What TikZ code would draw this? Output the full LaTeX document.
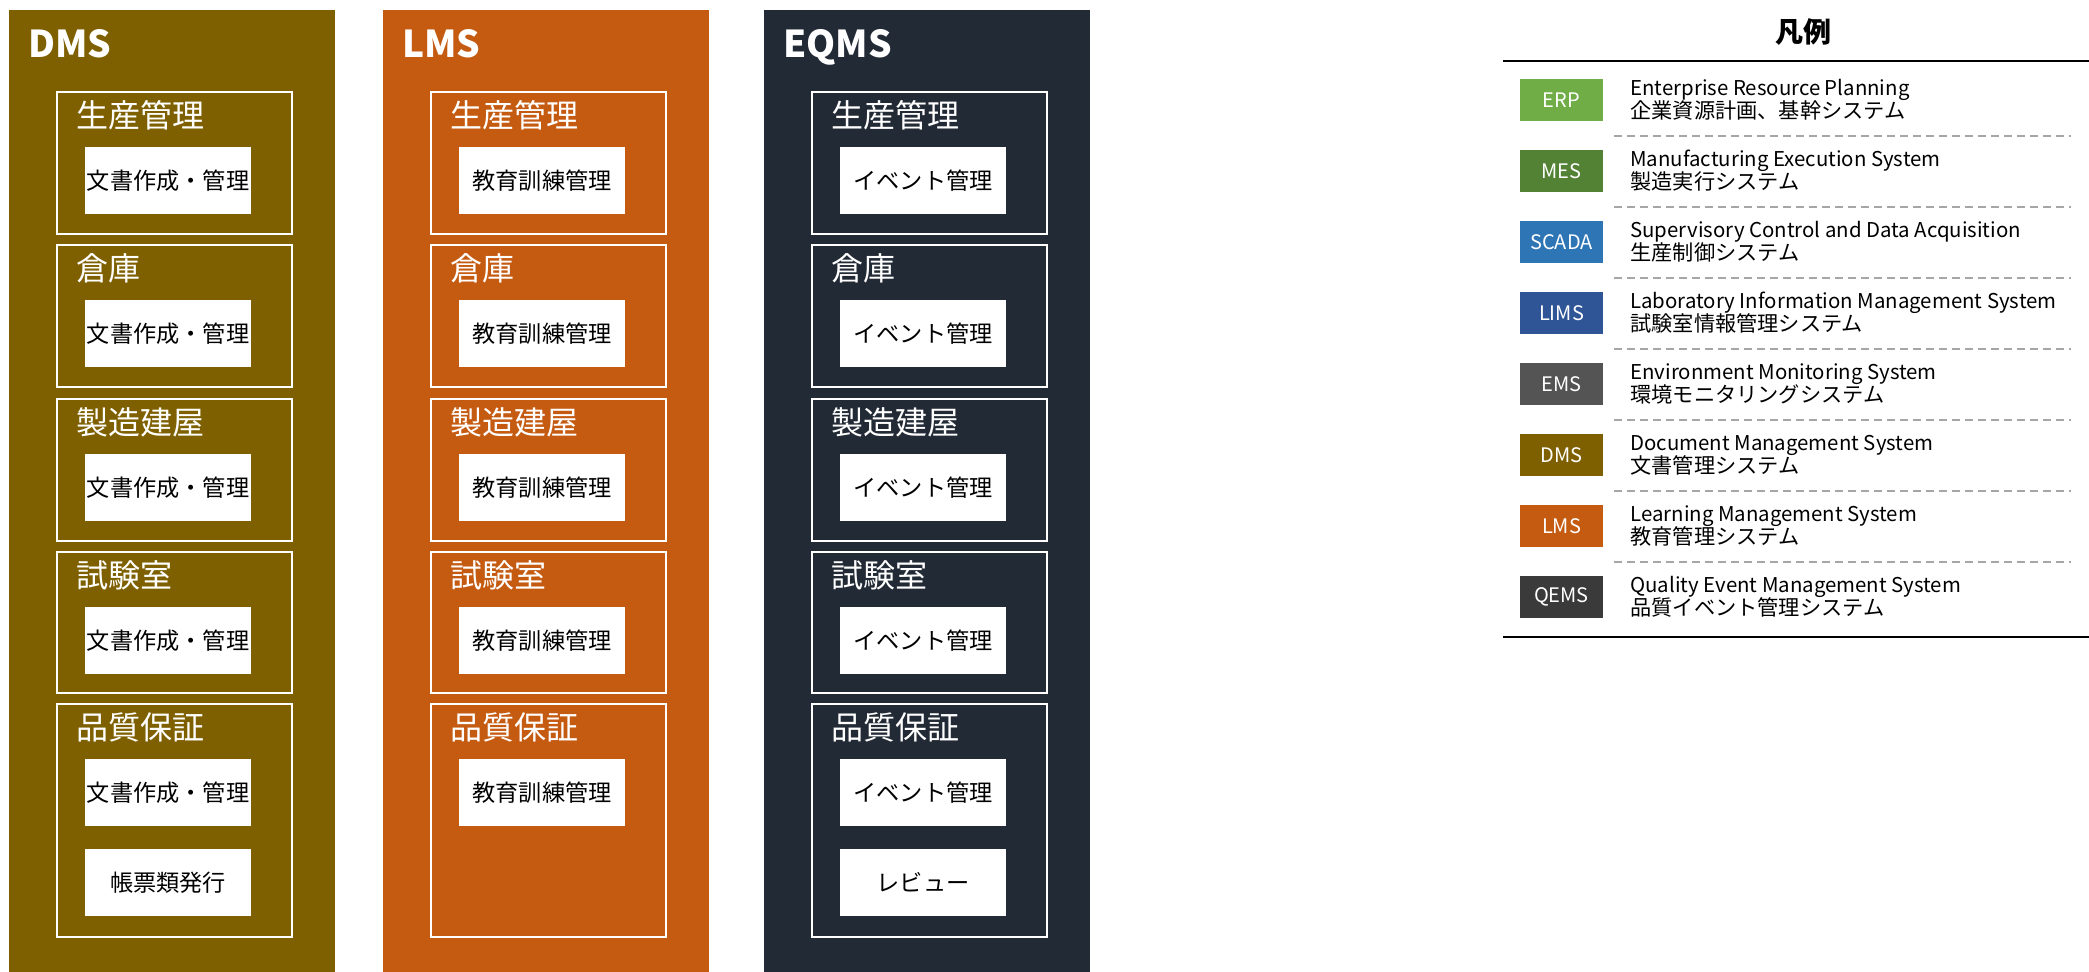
\documentclass[tikz,border=0pt]{standalone}
\usepackage{fontspec}
\setmainfont{Noto Sans CJK JP}
\definecolor{cdms}{HTML}{7F6000}
\definecolor{clms}{HTML}{C55A11}
\definecolor{ceqms}{HTML}{222A35}
\definecolor{cerp}{HTML}{70AD47}
\definecolor{cmes}{HTML}{548235}
\definecolor{cscada}{HTML}{2E75B6}
\definecolor{clims}{HTML}{2F5597}
\definecolor{cems}{HTML}{545454}
\definecolor{cqems}{HTML}{3A3A3A}
\definecolor{cdash}{HTML}{A6A6A6}
\tikzset{
 panel/.style={anchor=north west, inner sep=0, outer sep=0, minimum width=163pt, minimum height=482pt},
 ptitle/.style={anchor=base west, text=white, font=\bfseries\fontsize{18.5}{20}\selectfont, inner sep=0},
 ibox/.style={draw=white, line width=1pt, anchor=north west, inner sep=0, outer sep=0, minimum width=117.5pt},
 ititle/.style={anchor=base west, text=white, font=\fontsize{16}{18}\selectfont, inner sep=0},
 wbox/.style={fill=white, anchor=north west, inner sep=0, outer sep=0, minimum width=83pt, minimum height=33.5pt, font=\fontsize{11.6}{13}\selectfont, text=black},
 lbox/.style={anchor=north west, inner sep=0, outer sep=0, minimum width=41.5pt, minimum height=21pt, text=white, font=\fontsize{10}{12}\selectfont},
 ltext/.style={anchor=base west, inner sep=0, font=\fontsize{10.2}{12}\selectfont, text=black},
 ljtext/.style={anchor=base west, inner sep=0, font=\fontsize{10.6}{12}\selectfont, text=black},
 ltitle/.style={inner sep=0, font=\bfseries\fontsize{14}{16}\selectfont, text=black},
 sepline/.style={line width=1pt, black},
 dashline/.style={line width=1pt, cdash, dash pattern=on 4pt off 2.5pt},
}
\newcommand{\mkpanel}[5]{%
  \node[panel, fill=#2] (#1) at (#3,10) {};
  \node[ptitle] (#1-title) at ({#3+19},57) {#4};
  \foreach \i/\top/\h/\ttl in {1/92/142/生産管理, 2/245/142/倉庫, 3/399/142/製造建屋, 4/552/141/試験室, 5/704/233/品質保証}{
    \node[ibox, minimum height=\h*0.5pt] (#1-b\i) at ({#3+48},\top) {};
    \node[ititle] (#1-t\i) at ({#3+67},{\top+35}) {\ttl};
    \node[wbox] (#1-w\i) at ({#3+76},{\top+55}) {#5};
  }
}
\begin{document}
\begin{tikzpicture}[x=0.5pt,y=-0.5pt]
\useasboundingbox (0,0) rectangle (2089,971);
\mkpanel{dms}{cdms}{9}{DMS}{文書作成・管理}
\mkpanel{lms}{clms}{383}{LMS}{教育訓練管理}
\mkpanel{eqms}{ceqms}{764}{EQMS}{イベント管理}
\node[wbox] (dms-w6) at (85,849) {帳票類発行};
\node[wbox] (eqms-w6) at (840,849) {レビュー};
% legend
\node[ltitle] (lg-title) at (1803,32) {凡例};
\coordinate (lt-a) at (1503,61);
\coordinate (lt-b) at (2089,61);
\draw[sepline] (lt-a) -- (lt-b);
\coordinate (lb-a) at (1503,637);
\coordinate (lb-b) at (2089,637);
\draw[sepline] (lb-a) -- (lb-b);
\foreach \i/\lab/\col/\en/\jp in {
  0/ERP/cerp/Enterprise Resource Planning/企業資源計画、基幹システム,
  1/MES/cmes/Manufacturing Execution System/製造実行システム,
  2/SCADA/cscada/Supervisory Control and Data Acquisition/生産制御システム,
  3/LIMS/clims/Laboratory Information Management System/試験室情報管理システム,
  4/EMS/cems/Environment Monitoring System/環境モニタリングシステム,
  5/DMS/cdms/Document Management System/文書管理システム,
  6/LMS/clms/Learning Management System/教育管理システム,
  7/QEMS/cqems/Quality Event Management System/品質イベント管理システム}{
  \pgfmathsetmacro\t{79+71*\i}
  \node[lbox, fill=\col] (lg-b\i) at (1520,\t) {\lab};
  \node[ltext] (lg-en\i) at (1630,{\t+16}) {\en};
  \node[ljtext] (lg-jp\i) at (1630,{\t+39}) {\jp};
}
\foreach \i in {0,...,6}{
  \pgfmathsetmacro\yy{136+71*\i}
  \coordinate (dl\i a) at (1614,\yy);
  \coordinate (dl\i b) at (2071,\yy);
  \draw[dashline] (dl\i a) -- (dl\i b);
}
\end{tikzpicture}
\end{document}
